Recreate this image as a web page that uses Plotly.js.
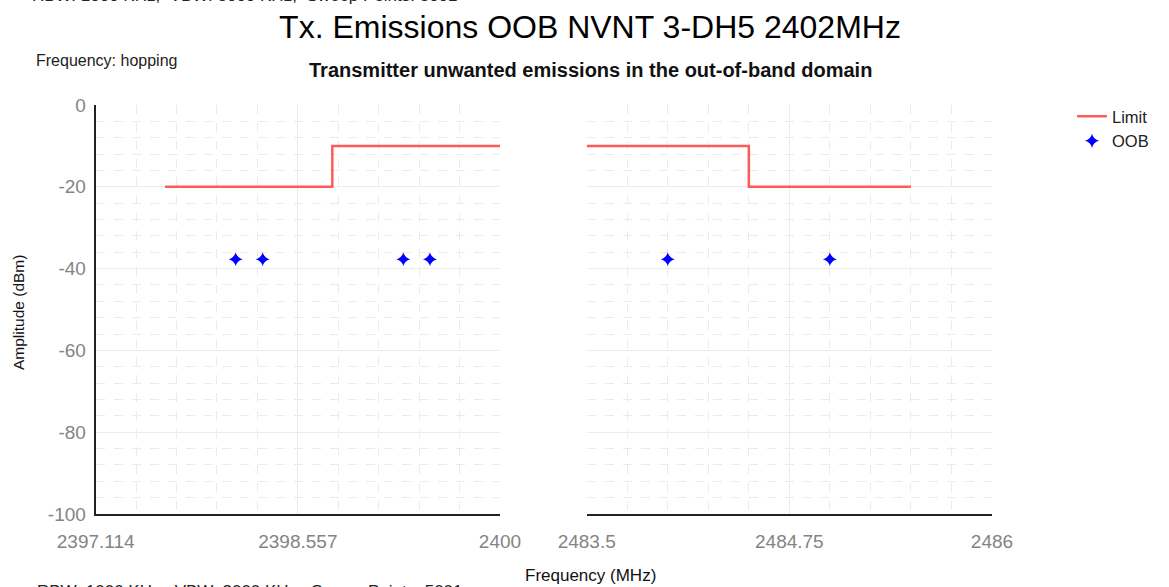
<!DOCTYPE html>
<html>
<head>
<meta charset="utf-8">
<script src="https://cdn.plot.ly/plotly-3.0.1.min.js"></script>
<style>html,body{margin:0;padding:0;background:#fff;}#chart{width:1169px;height:587px;}</style>
</head>
<body>
<div id="chart"></div>
<script>
// ---- data ----
const lowLimitFreq = [2397.609, 2398.803, 2398.803, 2400];
const lowLimitAmp = [-20, -20, -10, -10];
const highLimitFreq = [2483.5, 2484.5, 2484.5, 2485.5];
const highLimitAmp = [-10, -10, -20, -20];
const lowOobFreq = [2398.113, 2398.306, 2399.31, 2399.5];
const lowOobAmp = [-37.7, -37.7, -37.7, -37.7];
const highOobFreq = [2484.0, 2485.0];
const highOobAmp = [-37.7, -37.7];
const lowTicks = [2397.114, 2398.557, 2400];
const lowTickText = ['2397.114', '2398.557', '2400'];
const highTicks = [2483.5, 2484.75, 2486];
const highTickText = ['2483.5', '2484.75', '2486'];
const ampTicks = [0, -20, -40, -60, -80, -100];
const ampTickText = ['0', '-20', '-40', '-60', '-80', '-100'];

const W = 1169, H = 587;
const px = v => v / W, py = v => 1 - v / H;

const lowMinor = [];
for (let i = 1; i < 10; i++) lowMinor.push(2397.114 + i * 0.2886);
const highMinor = [];
for (let i = 1; i < 10; i++) highMinor.push(2483.5 + i * 0.25);

const FONT = 'Liberation Sans, Arial, sans-serif';
const limitLine = {color: '#ff5a5a', width: 2.5};
const oobMarker = {symbol: 'star-diamond', size: 10, color: '#0000ff'};

const traces = [
  {x: lowLimitFreq, y: lowLimitAmp, mode: 'lines', line: limitLine, name: 'Limit', xaxis: 'x', yaxis: 'y', legendgroup: 'l'},
  {x: highLimitFreq, y: highLimitAmp, mode: 'lines', line: limitLine, name: 'Limit', xaxis: 'x2', yaxis: 'y2', showlegend: false, legendgroup: 'l'},
  {x: lowOobFreq, y: lowOobAmp, mode: 'markers', marker: oobMarker, name: 'OOB', xaxis: 'x', yaxis: 'y', legendgroup: 'o'},
  {x: highOobFreq, y: highOobAmp, mode: 'markers', marker: oobMarker, name: 'OOB', xaxis: 'x2', yaxis: 'y2', showlegend: false, legendgroup: 'o'}
];

const gridCol = '#ebebeb';
const tickFont = {family: FONT, size: 19, color: '#848484'};

const commonX = {
  showgrid: true, gridcolor: gridCol, gridwidth: 1,
  showline: true, linecolor: '#222', linewidth: 2,
  ticks: '', tickfont: tickFont, zeroline: false, tickmode: 'array',
  ticklabelstandoff: 9, fixedrange: true
};
const yMinor = {tickmode: 'linear', tick0: 0, dtick: 4, showgrid: true, gridcolor: gridCol, griddash: 'dash', gridwidth: 1};

const layout = {
  width: W, height: H,
  margin: {l: 0, r: 0, t: 0, b: 0},
  paper_bgcolor: '#fff', plot_bgcolor: '#fff',
  font: {family: FONT},
  title: {text: 'Tx. Emissions OOB NVNT 3-DH5 2402MHz', font: {family: FONT, size: 32, color: '#000'},
          x: px(590), xanchor: 'center', xref: 'container', y: py(27), yref: 'container', yanchor: 'middle'},
  showlegend: true,
  legend: {x: px(1072), y: py(99), xanchor: 'left', yanchor: 'top', font: {family: FONT, size: 16.5, color: '#222'},
           bgcolor: 'rgba(0,0,0,0)', tracegroupgap: 0, itemwidth: 30},
  xaxis: Object.assign({}, commonX, {domain: [px(95.7), px(500)], range: [2397.114, 2400], tickvals: lowTicks, ticktext: lowTickText, anchor: 'y',
    minor: {tickvals: lowMinor, showgrid: true, gridcolor: gridCol, griddash: 'dash', gridwidth: 1}}),
  xaxis2: Object.assign({}, commonX, {domain: [px(586.7), px(992)], range: [2483.5, 2486], tickvals: highTicks, ticktext: highTickText, anchor: 'y2',
    minor: {tickvals: highMinor, showgrid: true, gridcolor: gridCol, griddash: 'dash', gridwidth: 1}}),
  yaxis: {domain: [py(514), py(105)], range: [-100, 0], anchor: 'x', tickmode: 'array', tickvals: ampTicks, ticktext: ampTickText,
    showgrid: true, gridcolor: gridCol, showline: true, linecolor: '#222', linewidth: 2, ticks: '', tickfont: tickFont,
    zeroline: false, ticklabelstandoff: 4, minor: yMinor, fixedrange: true},
  yaxis2: {domain: [py(514), py(105)], range: [-100, 0], anchor: 'x2', tickmode: 'array', tickvals: ampTicks,
    showgrid: true, gridcolor: gridCol, showline: false, ticks: '', showticklabels: false, zeroline: false, minor: yMinor, fixedrange: true},
  annotations: [
    {text: '<b>Transmitter unwanted emissions in the out-of-band domain</b>', xref: 'paper', yref: 'paper', x: px(590), y: py(70),
     xanchor: 'center', yanchor: 'middle', showarrow: false, font: {family: FONT, size: 20, color: '#111'}},
    {text: 'Frequency: hopping', xref: 'paper', yref: 'paper', x: px(34), y: py(61), xanchor: 'left', yanchor: 'middle',
     showarrow: false, font: {family: FONT, size: 16, color: '#222'}},
    {text: 'Amplitude (dBm)', xref: 'paper', yref: 'paper', x: px(18), y: py(313), xanchor: 'center', yanchor: 'middle',
     textangle: -90, showarrow: false, font: {family: FONT, size: 15.5, color: '#111'}},
    {text: 'Frequency (MHz)', xref: 'paper', yref: 'paper', x: px(590), y: py(575), xanchor: 'center', yanchor: 'middle',
     showarrow: false, font: {family: FONT, size: 17, color: '#111'}},
    {text: 'RBW: 1000 KHz,  VBW: 3000 KHz,  Sweep Points: 5001', xref: 'paper', yref: 'paper', x: px(30), y: py(-4), xanchor: 'left', yanchor: 'middle',
     showarrow: false, font: {family: FONT, size: 17, color: '#222'}},
    {text: 'RBW: 1000 KHz,  VBW: 3000 KHz,  Sweep Points: 5001', xref: 'paper', yref: 'paper', x: px(35), y: py(592), xanchor: 'left', yanchor: 'middle',
     showarrow: false, font: {family: FONT, size: 17, color: '#222'}}
  ]
};

Plotly.newPlot('chart', traces, layout, {displayModeBar: false, staticPlot: true});
</script>
</body>
</html>
